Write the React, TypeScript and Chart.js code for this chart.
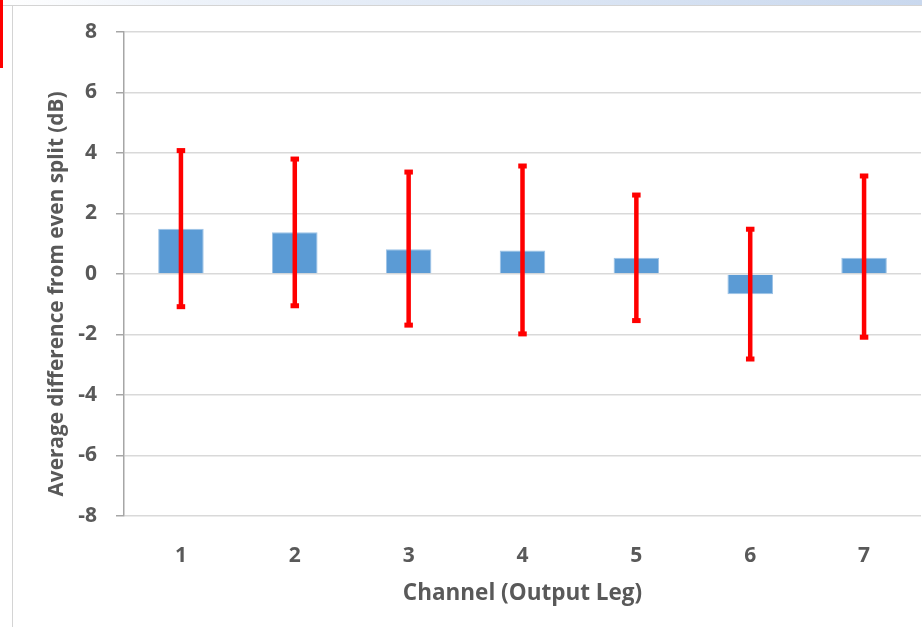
import React, { useEffect, useRef } from "react";
import { Chart, registerables } from "chart.js";

Chart.register(...registerables);

const channels = ["1", "2", "3", "4", "5", "6", "7"];
const avgDiff = [1.5, 1.38, 0.82, 0.78, 0.54, -0.67, 0.54];
const errHigh = [4.08, 3.8, 3.37, 3.57, 2.61, 1.48, 3.24];
const errLow = [-1.08, -1.05, -1.69, -1.98, -1.54, -2.81, -2.09];
const yTicks = [-8, -6, -4, -2, 0, 2, 4, 6, 8];
const yTitle = "Average difference from even split (dB)";
const xTitle = "Channel (Output Leg)";

const FONT = "'Open Sans', 'DejaVu Sans', sans-serif";
const GREY = "#595959";

const errorBarPlugin = {
  id: "errorBars",
  afterDatasetsDraw(chart: any) {
    const meta = chart.getDatasetMeta(0);
    const y = chart.scales.y;
    const ctx = chart.ctx;
    ctx.save();
    ctx.fillStyle = "#FF0000";
    meta.data.forEach((el: any, i: number) => {
      const x = el.x;
      const top = y.getPixelForValue(errHigh[i]);
      const bot = y.getPixelForValue(errLow[i]);
      ctx.fillRect(x - 2.25, top, 4.5, bot - top);
      ctx.fillRect(x - 4.25, top - 2.5, 8.5, 5);
      ctx.fillRect(x - 4.25, bot - 2.5, 8.5, 5);
    });
    ctx.restore();
  },
};

const yTitlePlugin = {
  id: "yTitleCustom",
  afterDraw(chart: any) {
    const ctx = chart.ctx;
    const area = chart.chartArea;
    ctx.save();
    ctx.translate(63, (area.top + area.bottom) / 2 + 20);
    ctx.rotate(-Math.PI / 2);
    ctx.font = `bold 20.8px ${FONT}`;
    ctx.fillStyle = GREY;
    ctx.textAlign = "center";
    ctx.textBaseline = "alphabetic";
    ctx.fillText(yTitle, 0, 0);
    ctx.restore();
  },
};

export default function App() {
  const ref = useRef<HTMLCanvasElement | null>(null);
  useEffect(() => {
    if (!ref.current) return;
    const chart = new Chart(ref.current, {
      type: "bar",
      data: {
        labels: channels,
        datasets: [
          {
            data: avgDiff,
            backgroundColor: "#5B9BD5",
            borderColor: "#9DC3E6",
            borderWidth: 1,
            categoryPercentage: 1,
            barPercentage: 0.4,
          },
        ],
      },
      options: {
        animation: false,
        responsive: false,
        maintainAspectRatio: false,
        layout: { padding: { left: 40, top: 32, right: 1, bottom: 0 } },
        plugins: { legend: { display: false }, tooltip: { enabled: false } },
        scales: {
          x: {
            afterFit: (s: any) => {
              s.height = 111;
            },
            grid: { display: false, drawTicks: false },
            border: { display: false },
            ticks: {
              padding: 27,
              color: GREY,
              font: { family: FONT, size: 21, weight: "bold" },
            },
            title: {
              display: true,
              text: xTitle,
              color: GREY,
              font: { family: FONT, size: 22.5, weight: "bold" },
              padding: { top: 0, bottom: 20 },
            },
          },
          y: {
            min: -8,
            max: 8,
            afterBuildTicks: (s: any) => {
              s.ticks = yTicks.map((v) => ({ value: v }));
            },
            afterFit: (s: any) => {
              s.width = 84;
            },
            grid: {
              color: "#D9D9D9",
              lineWidth: 1.5,
              tickColor: "#A6A6A6",
              tickLength: 8,
            },
            border: { color: "#A6A6A6", width: 1.5 },
            ticks: {
              padding: 19,
              color: GREY,
              font: { family: FONT, size: 21, weight: "bold" },
            },
            title: { display: false },
          },
        },
      },
      plugins: [errorBarPlugin, yTitlePlugin],
    });
    return () => chart.destroy();
  }, []);
  return (
    <div
      style={{
        position: "fixed",
        left: 0,
        top: 0,
        width: 922,
        height: 627,
        background: "#FFFFFF",
      }}
    >
      <div
        style={{
          position: "absolute",
          left: 0,
          top: 0,
          width: 922,
          height: 5,
          background: "linear-gradient(90deg, #ffffff 0%, #eef3fa 20%, #c9d8ee 100%)",
          borderBottom: "1px solid #D4D4D4",
        }}
      />
      <div
        style={{
          position: "absolute",
          left: 12,
          top: 5,
          width: 1,
          height: 622,
          background: "#D4D4D4",
        }}
      />
      <div
        style={{
          position: "absolute",
          left: 0,
          top: 0,
          width: 3,
          height: 68,
          background: "#FF0000",
        }}
      />
      <canvas
        ref={ref}
        width={922}
        height={627}
        style={{ position: "absolute", left: 0, top: 0, width: 922, height: 627 }}
      />
    </div>
  );
}
